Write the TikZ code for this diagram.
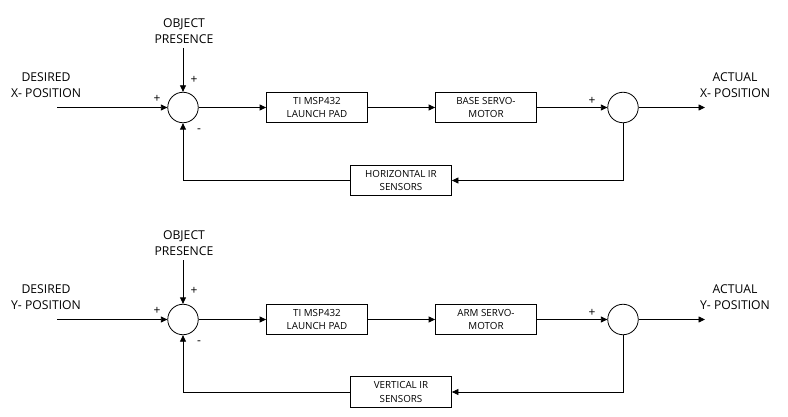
\documentclass[tikz,border=0pt]{standalone}
\usepackage{fontspec}
\setmainfont{Open Sans}
\usetikzlibrary{arrows.meta}
\begin{document}
\begin{tikzpicture}[x=1pt,y=-1pt,
  line width=0.8pt,
  arr/.style={-{Triangle[length=6.5pt,width=6pt]}},
  blk/.style={draw,minimum width=101pt,minimum height=30.5pt,inner sep=0pt,align=center,font=\fontsize{9.8}{13.8}\selectfont},
  sumnode/.style={draw,circle,minimum size=30.5pt,inner sep=0pt},
  lbl/.style={align=center,inner sep=0pt,font=\fontsize{12.2}{16}\selectfont},
  sgn/.style={inner sep=0pt,font=\fontsize{12}{13}\selectfont}]
\useasboundingbox (0,0) rectangle (788,417);
\fill[white] (0,0) rectangle (788,417);

% ---------- X loop ----------
\node[sumnode] (s1x) at (183,107.5) {};
\node[sumnode] (s2x) at (623,107.5) {};
\node[blk] (tix) at (317,107.5) {TI MSP432\\LAUNCH PAD};
\node[blk] (motx) at (486,107.5) {BASE SERVO-\\MOTOR};
\node[blk] (senx) at (401,180.5) {HORIZONTAL IR\\SENSORS};
\node[lbl] (desx) at (46,85) {DESIRED\\X- POSITION};
\node[lbl] (objx) at (184,31) {OBJECT\\PRESENCE};
\node[lbl] (actx) at (735,85) {ACTUAL\\X- POSITION};
\coordinate (inx) at (57,107.5);
\coordinate (objendx) at (183,48);
\coordinate (outx) at (705,107.5);
\node[sgn] (p1x) at (157,99) {+};
\node[sgn] (p2x) at (194,80) {+};
\node[sgn] (m1x) at (199,131) {-};
\node[sgn] (p3x) at (592,101) {+};
\draw[arr] (inx) -- (s1x);
\draw[arr] (objendx) -- (s1x);
\draw[arr] (s1x) -- (tix);
\draw[arr] (tix) -- (motx);
\draw[arr] (motx) -- (s2x);
\draw[arr] (s2x) -- (outx);
\draw[arr] (s2x.south) |- (senx.east);
\draw[arr] (senx.west) -| (s1x.south);

% ---------- Y loop ----------
\node[sumnode] (s1y) at (183,319.5) {};
\node[sumnode] (s2y) at (623,319.5) {};
\node[blk] (tiy) at (317,319.5) {TI MSP432\\LAUNCH PAD};
\node[blk] (moty) at (486,319.5) {ARM SERVO-\\MOTOR};
\node[blk] (seny) at (401,392) {VERTICAL IR\\SENSORS};
\node[lbl] (desy) at (46,297) {DESIRED\\Y- POSITION};
\node[lbl] (objy) at (184,243) {OBJECT\\PRESENCE};
\node[lbl] (acty) at (735,297) {ACTUAL\\Y- POSITION};
\coordinate (iny) at (57,319.5);
\coordinate (objendy) at (183,260);
\coordinate (outy) at (705,319.5);
\node[sgn] (p1y) at (157,311) {+};
\node[sgn] (p2y) at (194,291) {+};
\node[sgn] (m1y) at (199,343) {-};
\node[sgn] (p3y) at (592,313) {+};
\draw[arr] (iny) -- (s1y);
\draw[arr] (objendy) -- (s1y);
\draw[arr] (s1y) -- (tiy);
\draw[arr] (tiy) -- (moty);
\draw[arr] (moty) -- (s2y);
\draw[arr] (s2y) -- (outy);
\draw[arr] (s2y.south) |- (seny.east);
\draw[arr] (seny.west) -| (s1y.south);
\end{tikzpicture}
\end{document}
